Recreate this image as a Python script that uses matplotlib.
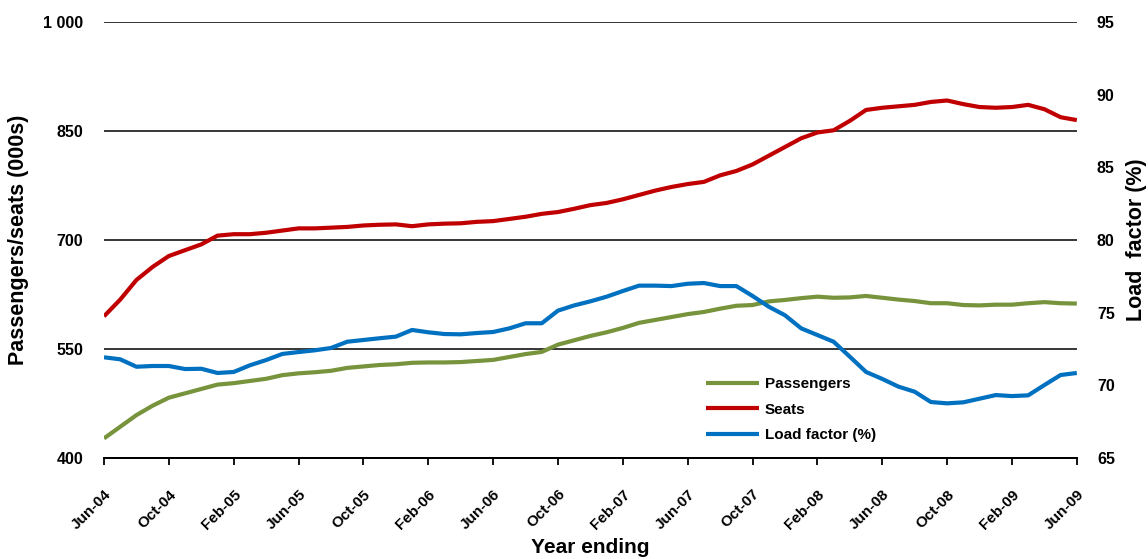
import numpy as np
import matplotlib
matplotlib.use("Agg")
import matplotlib.pyplot as plt
from matplotlib.ticker import FuncFormatter

plt.rcParams['font.family'] = ['Liberation Sans', 'DejaVu Sans']
plt.rcParams['font.weight'] = 'bold'
plt.rcParams['axes.labelweight'] = 'bold'

# monthly, year ending Jun-04 .. Jun-09
tick_labels = ['Jun-04', 'Oct-04', 'Feb-05', 'Jun-05', 'Oct-05', 'Feb-06', 'Jun-06', 'Oct-06',
               'Feb-07', 'Jun-07', 'Oct-07', 'Feb-08', 'Jun-08', 'Oct-08', 'Feb-09', 'Jun-09']

seats = [595, 618, 645, 663, 678, 686, 694, 706, 708, 708,
         710, 713, 716, 716, 717, 718, 720, 721, 721.5, 719,
         721.5, 722.5, 723, 725, 726, 729, 732, 736, 738.5, 743,
         748, 751, 756, 762, 768, 773, 777, 780, 789, 795,
         804, 816, 828, 840, 848, 851, 864, 879, 882, 884,
         886, 890, 892, 887, 883, 882, 883, 886, 880, 869, 865]

passengers = [427, 443, 459, 472, 483, 489, 495, 501, 503, 506,
              509, 514, 516.5, 518, 520, 524, 526, 528, 529, 531,
              531.5, 531.5, 532, 533.5, 535, 539, 543, 546, 556, 562,
              568, 573, 579, 586, 590, 594, 598, 601, 605.5, 609.5,
              610.5, 615.5, 617.5, 620, 622, 620.5, 621, 623, 620.5, 618,
              616, 613, 613, 610.5, 610, 611, 611, 613, 614.5, 613, 612.5]

load_factor = [71.93, 71.79, 71.28, 71.33, 71.33, 71.12, 71.14, 70.85, 70.92, 71.38,
               71.74, 72.16, 72.29, 72.41, 72.57, 73.0, 73.12, 73.24, 73.35, 73.81,
               73.65, 73.53, 73.51, 73.6, 73.67, 73.92, 74.27, 74.27, 75.14, 75.5,
               75.78, 76.1, 76.49, 76.86, 76.86, 76.83, 76.99, 77.04, 76.83, 76.83,
               76.15, 75.41, 74.82, 73.92, 73.46, 73.0, 71.97, 70.92, 70.44, 69.91,
               69.56, 68.85, 68.76, 68.83, 69.08, 69.33, 69.26, 69.31, 70.02, 70.71, 70.85]

x = np.arange(len(seats))

fig = plt.figure(figsize=(11.48, 5.59), dpi=100)
ax = fig.add_axes([0.0906, 0.1807, 0.8474, 0.7799])
ax2 = ax.twinx()

l1, = ax.plot(x, passengers, color='#77933C', lw=3, label='Passengers', solid_capstyle='butt')
l2, = ax.plot(x, seats, color='#C00000', lw=3, label='Seats', solid_capstyle='butt')
l3, = ax2.plot(x, load_factor, color='#0070C0', lw=3, label='Load factor (%)', solid_capstyle='butt')

ax.set_xlim(0, 60)
ax.set_ylim(400, 1000)
ax.set_yticks([400, 550, 700, 850, 1000])
ax.yaxis.set_major_formatter(FuncFormatter(lambda v, p: f'{int(v):,}'.replace(',', ' ')))
ax2.set_ylim(65, 95)
ax2.set_yticks([65, 70, 75, 80, 85, 90, 95])

ax.grid(axis='y', color='black', lw=1.1)
ax.set_axisbelow(True)
for a in (ax, ax2):
    for s in ('top', 'left', 'right'):
        a.spines[s].set_visible(False)
    a.spines['bottom'].set_linewidth(1.3)
ax.tick_params(axis='y', length=0, labelsize=11.5, pad=15)
ax2.tick_params(axis='y', length=0, labelsize=11.5, pad=14.5)

ax.set_xticks(x[::4])
ax.set_xticklabels(tick_labels, rotation=45, ha='right', rotation_mode='anchor', fontsize=11)
ax.tick_params(axis='x', direction='out', length=5, width=1.3, pad=16)

ax.set_xlabel('Year ending', fontsize=15, labelpad=4)
ax.set_ylabel('Passengers/seats (000s)', fontsize=15.5, labelpad=10)
ax2.set_ylabel('Load  factor (%)', fontsize=15.5, labelpad=8)

fig.legend([l1, l2, l3], ['Passengers', 'Seats', 'Load factor (%)'], frameon=False,
           loc='upper left', bbox_to_anchor=(0.603, 0.350), fontsize=11,
           handlelength=3.5, labelspacing=0.75, handletextpad=0.35)

fig.savefig('out.png', dpi=100)
